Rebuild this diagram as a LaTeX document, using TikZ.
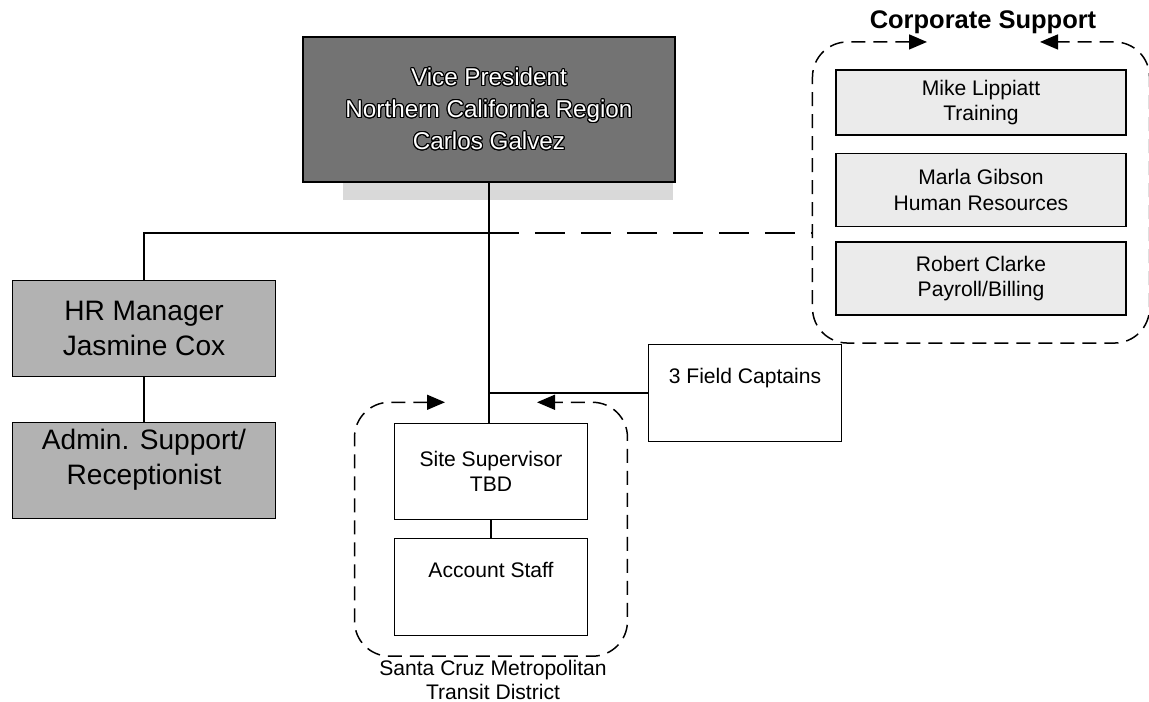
\documentclass[tikz,border=0pt]{standalone}
\usepackage{fontspec}
\setmainfont{Liberation Sans}
\usepackage{xcolor}
\usepackage{contour}
\usepackage{tikz}
\usetikzlibrary{calc, fit, arrows.meta}
\contourlength{0.6pt}
\newcommand{\vpline}[1]{\contour{black}{\textcolor{white}{#1}}}
\tikzstyle{vpbox}   = [rectangle, draw=black, line width=1.3pt, fill=black!55, minimum width=7.44cm, minimum height=2.9cm, align=center, font=\fontsize{13.8}{18.2}\selectfont]
\tikzstyle{hrbox}   = [rectangle, draw=black, line width=0.8pt, fill=black!30, minimum width=5.27cm, minimum height=1.92cm, align=center, font=\fontsize{16}{19.8}\selectfont]
\tikzstyle{staff}   = [rectangle, draw=black, line width=0.7pt, fill=white, minimum width=3.86cm, minimum height=1.93cm, align=center, font=\fontsize{12}{14.6}\selectfont]
\tikzstyle{corpbox} = [rectangle, draw=black, line width=0.8pt, fill=black!8, minimum width=5.8cm, minimum height=1.46cm, align=center, font=\fontsize{12}{14.6}\selectfont]
\tikzstyle{link}    = [line width=0.6pt]
\tikzstyle{dashlink} = [line width=0.7pt, dash pattern=on 0.6cm off 0.32cm]
\tikzstyle{grp}     = [line width=0.85pt, dash pattern=on 0.28cm off 0.16cm, rounded corners=0.7cm, {Triangle[length=0.36cm,width=0.3cm]}-{Triangle[length=0.36cm,width=0.3cm]}]

\begin{document}
\begin{tikzpicture}[x=0.02cm, y=-0.02cm]
    \useasboundingbox (0,0) rectangle (1149,702);
    \fill [black!15] (343,182) rectangle (673,200);

    \node (vp)     [vpbox]   at (489,109.5) {\vpline{Vice President}\\\vpline{Northern California Region}\\\vpline{Carlos Galvez}};
    \node (hr)     [hrbox]   at (144,328.5) {HR Manager\\Jasmine Cox};
    \node (admin)  [hrbox]   at (144,470.5) {Admin. Support/\\Receptionist\\[-10.5pt]\strut};
    \node (site)   [staff]   at (491,471.5) {Site Supervisor\\TBD};
    \node (acct)   [staff]   at (491,587)   {Account Staff\\\strut};
    \node (field)  [staff]   at (745,393)   {3 Field Captains\\\strut};
    \node (mike)   [corpbox, minimum height=1.3cm] at (981,102.5) {Mike Lippiatt\\Training};
    \node (marla)  [corpbox] at (981,190)   {Marla Gibson\\Human Resources};
    \node (robert) [corpbox] at (981,278.5) {Robert Clarke\\Payroll/Billing};

    \node (corptitle) at (983,22) {\fontsize{14.5}{17}\selectfont\bfseries Corporate Support};
    \node (district) [align=center, font=\fontsize{12}{13.6}\selectfont] at (493,680) {Santa Cruz Metropolitan\\Transit District};

    \node (corp)  [fit=(mike)(robert), inner xsep=0.45cm, inner ysep=0.54cm] {};
    \node (scmtd) [fit=(site)(acct), inner xsep=0.78cm, inner ysep=0.4cm] {};
    \coordinate (hub) at (489,233);

    \draw [link] (vp.south) -- (vp.south |- site.north);
    \draw [link] (hub) -| (hr.north);
    \draw [link] (hr) -- (admin);
    \draw [link] (site) -- (acct);
    \draw [link] (field.west) -- (field.west -| vp.south);
    \draw [dashlink] (hub) -- (hub -| corp.west);

    \draw [grp] ($(corp.north)+(-54,0)$) -| (corp.south west) -| (corp.north east) -- ($(corp.north)+(59,0)$);
    \draw [grp] ($(scmtd.north)+(-46,0)$) -| (scmtd.south west) -| (scmtd.north east) -- ($(scmtd.north)+(46,0)$);
\end{tikzpicture}
\end{document}
